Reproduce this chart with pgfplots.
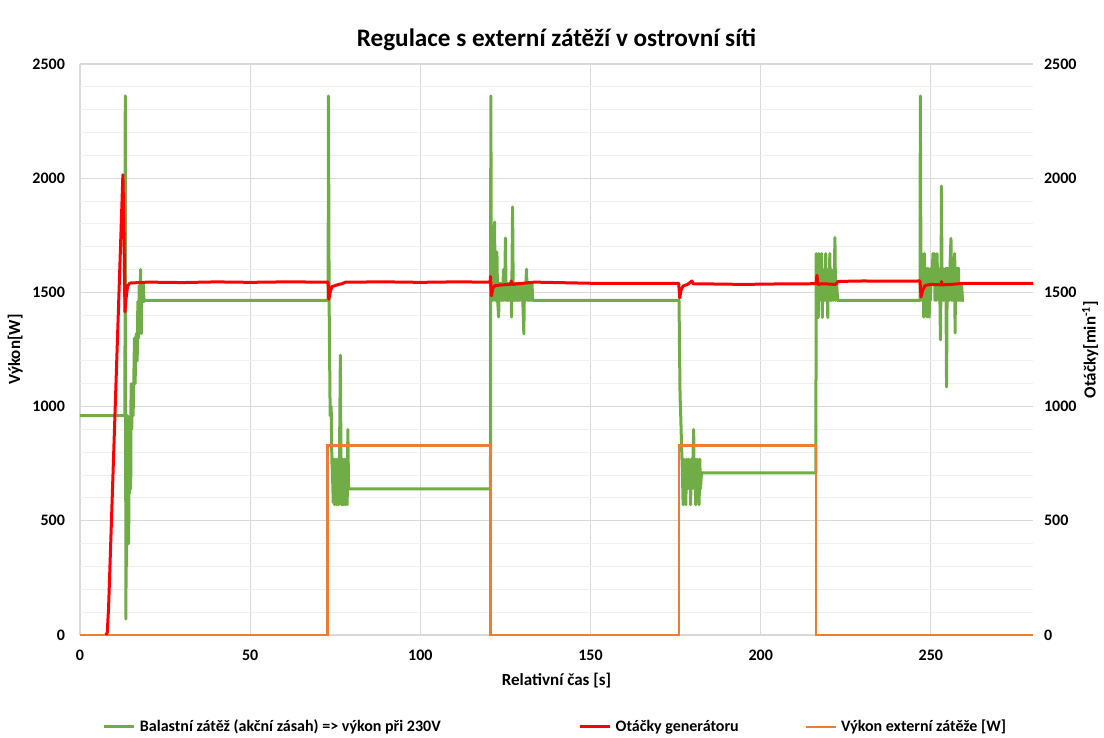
\documentclass[border=0pt]{standalone}
\usepackage{fontspec}
\setmainfont{Carlito}
\usepackage{pgfplots}
\pgfplotsset{compat=1.18}

\definecolor{balast}{HTML}{70AD47}
\definecolor{otacky}{HTML}{FF0000}
\definecolor{externi}{HTML}{ED7D31}
\definecolor{majgrid}{HTML}{D9D9D9}
\definecolor{mingrid}{HTML}{EFEFEF}

\pgfplotsset{
  tick label style={font=\bfseries\fontsize{8}{9}\selectfont},
  /pgf/number format/assume math mode=true,
  /pgf/number format/1000 sep={},
  major tick length=0pt, minor tick length=0pt,
}

\begin{document}
\begin{tikzpicture}
\useasboundingbox (-40pt,-51.5pt) rectangle (512pt,317.5pt);
% levy osa: vykon
\begin{axis}[
  scale only axis,
  width=476.5pt, height=285.5pt,
  xmin=0, xmax=280, ymin=0, ymax=2500,
  xtick={0,50,...,250}, ytick={0,500,...,2500},
  minor y tick num=4,
  grid=major, ymajorgrids, yminorgrids,
  major grid style={line width=0.6pt, draw=majgrid},
  minor grid style={line width=0.5pt, draw=mingrid},
  axis line style={draw=none},
  clip=false,
  yticklabel style={xshift=-4pt},
  xticklabel style={yshift=-4pt},
  title={Regulace s externí zátěží v ostrovní síti},
  title style={font=\bfseries\fontsize{12.6}{14}\selectfont, at={(axis description cs:0.5,1)}, anchor=center, yshift=6pt},
  xlabel={Relativní čas [s]},
  xlabel style={font=\bfseries\fontsize{8.5}{10}\selectfont, at={(axis description cs:0.5,-0.0806)}, anchor=center},
  ylabel={Výkon[W]},
  ylabel style={font=\bfseries\fontsize{8.5}{10}\selectfont, at={(axis description cs:-0.068,0.5)}, anchor=center},
]
% Balastni zatez
\addplot[balast, line width=1.5pt, line join=round] coordinates {
(0,960) (13.2,960) (13.3,2360) (13.4,960) (13.5,70) (13.6,950) (13.7,300) (13.8,940)
(13.9,400) (14.0,960) (14.1,520) (14.2,780) (14.3,400) (14.4,770) (14.5,620) (14.6,780)
(14.7,640) (14.8,770) (14.9,640) (15.0,1100) (15.2,900) (15.4,1100) (15.6,960) (15.8,1100)
(16.0,1300) (16.2,1100) (16.4,1300) (16.6,1320) (16.8,1200) (17.0,1460) (17.2,1300) (17.4,1530)
(17.6,1380) (17.8,1600) (18.0,1320) (18.2,1540) (18.4,1460) (18.6,1540) (18.8,1460) (19.0,1465)
(72.9,1465) (73.0,2360) (73.2,1450) (73.5,960) (73.8,1000) (74.0,760) (74.2,700) (74.4,580)
(74.6,770) (74.8,570) (75.0,710) (75.2,770) (75.4,570) (75.6,710) (75.8,770) (76.0,570)
(76.2,710) (76.5,1225) (76.7,700) (76.9,570) (77.1,770) (77.3,570) (77.5,710) (77.7,770)
(77.9,570) (78.1,710) (78.3,770) (78.5,570) (78.7,900) (78.9,640) (79.2,640)
(120.6,640) (120.7,2360) (120.9,1465) (121.1,1600) (121.3,1465) (121.5,1600) (121.8,1808) (122.0,1465)
(122.2,1540) (122.5,1677) (122.7,1465) (123.0,1392) (123.2,1540) (123.4,1465) (123.6,1540) (123.8,1465)
(124.0,1540) (124.2,1465) (124.4,1600) (124.6,1465) (124.8,1540) (125.0,1738) (125.2,1465) (125.4,1540)
(125.6,1465) (125.8,1540) (126.0,1465) (126.2,1540) (126.4,1465) (126.6,1540) (126.8,1392) (127.1,1874)
(127.3,1465) (127.5,1540) (127.7,1465) (127.9,1540) (128.1,1465) (128.3,1540) (128.5,1465) (128.7,1540)
(128.9,1465) (129.1,1540) (129.3,1465) (129.5,1540) (129.7,1465) (129.9,1540) (130.1,1465) (130.4,1318)
(130.6,1540) (130.8,1465) (131.0,1540) (131.2,1602) (131.4,1465) (131.6,1540) (131.8,1465) (132.0,1540)
(132.2,1465) (132.4,1540) (132.6,1465) (132.8,1540) (133.0,1465) (133.5,1465)
(176.0,1465) (176.1,1320) (176.3,1050) (176.5,960) (176.8,800) (177.0,710) (177.2,570) (177.4,770)
(177.6,640) (177.8,710) (178.0,570) (178.2,770) (178.4,640) (178.6,710) (178.8,770) (179.0,640)
(179.2,710) (179.4,570) (179.6,770) (179.8,640) (180.0,710) (180.3,900) (180.5,640) (180.7,770)
(180.9,570) (181.1,710) (181.3,770) (181.5,640) (181.7,710) (181.9,570) (182.1,770) (182.3,640)
(182.6,710) (183.0,710)
(216.2,710) (216.3,1670) (216.5,1465) (216.7,1600) (216.9,1390) (217.1,1670) (217.3,1465) (217.5,1600)
(217.7,1465) (217.9,1670) (218.1,1390) (218.3,1600) (218.5,1465) (218.7,1600) (218.9,1465) (219.1,1670)
(219.3,1465) (219.5,1600) (219.7,1390) (219.9,1600) (220.1,1465) (220.3,1670) (220.5,1465) (220.7,1600)
(220.9,1465) (221.1,1540) (221.3,1465) (221.6,1540) (221.8,1740) (222.0,1465) (222.3,1540) (222.6,1465)
(246.8,1465) (246.9,2360) (247.1,1465) (247.3,1670) (247.5,1540) (247.7,1606) (247.9,1392) (248.1,1670)
(248.3,1540) (248.5,1606) (248.7,1470) (248.9,1392) (249.1,1606) (249.3,1500) (249.5,1392) (249.7,1540)
(249.9,1465) (250.1,1606) (250.3,1540) (250.6,1670) (250.8,1540) (251.0,1670) (251.2,1465) (251.4,1606)
(251.6,1465) (251.8,1670) (252.0,1540) (252.2,1606) (252.4,1465) (252.6,1540) (252.8,1292) (253.0,1600)
(253.1,1966) (253.3,1465) (253.5,1606) (253.7,1465) (253.9,1540) (254.1,1465) (254.4,1606) (254.6,1086)
(254.8,1606) (255.0,1465) (255.2,1540) (255.4,1465) (255.6,1606) (255.9,1736) (256.1,1465) (256.3,1540)
(256.5,1465) (256.7,1606) (257.0,1670) (257.1,1322) (257.3,1606) (257.5,1465) (257.7,1606) (257.9,1465)
(258.1,1606) (258.3,1465) (258.5,1540) (258.8,1465) (259.0,1540) (259.3,1465) (259.7,1465)
};
% Vykon externi zateze
\addplot[externi, line width=1.1pt] coordinates {
(0,0) (72.7,0) (72.7,830) (120.6,830) (120.6,0) (176.0,0) (176.0,830) (216.3,830) (216.3,0) (280,0)
};
\end{axis}
% prava osa: otacky
\begin{axis}[
  scale only axis,
  width=476.5pt, height=285.5pt,
  xmin=0, xmax=280, ymin=0, ymax=2500,
  axis x line=none,
  axis y line*=right,
  axis line style={draw=none},
  ytick={0,500,...,2500},
  yticklabel style={xshift=2pt},
  clip=false,
  ylabel={Otáčky[min\textsuperscript{-1}]},
  ylabel style={font=\bfseries\fontsize{8.5}{10}\selectfont, at={(axis description cs:1.06,0.5)}, anchor=center, rotate=0},
  legend columns=3,
  legend style={draw=none, fill=none, font=\bfseries\fontsize{8}{9}\selectfont,
    at={(axis description cs:0.5,-0.161)}, anchor=center,
    /tikz/column 2/.style={column sep=67pt},
    /tikz/column 4/.style={column sep=31pt}},
  legend image code/.code={\draw[#1] (0pt,0pt) -- (15pt,0pt);},
]
\addlegendimage{balast, line width=1.5pt}
\addlegendentry{Balastní zátěž (akční zásah) => výkon při 230V}
\addplot[otacky, line width=1.5pt, line join=round] coordinates {
(7.6,0) (8.0,10) (8.4,120) (12.6,2015) (12.9,1800) (13.2,1415) (13.5,1470) (14.0,1530)
(14.7,1541) (20,1545) (30,1543) (40,1546) (50,1544) (60,1546) (72.9,1545) (73.1,1470)
(73.5,1500) (74.0,1525) (75,1530) (76,1535) (77,1538) (78,1545) (90,1546) (100,1544)
(110,1546) (120.5,1545) (120.6,1570) (120.9,1485) (121.3,1520) (122,1530) (124,1533) (126.5,1535)
(126.7,1550) (126.9,1535) (129,1538) (133.5,1545) (140,1543) (150,1540) (160,1539) (170,1540)
(175.9,1540) (176.2,1475) (176.6,1510) (177.2,1528) (178.5,1535) (179.8,1550) (180.2,1537) (185,1537)
(195,1535) (205,1537) (216.3,1538) (216.5,1575) (216.9,1535) (218,1538) (222,1535) (222.7,1548)
(230,1550) (240,1549) (246.8,1550) (247.1,1480) (247.6,1510) (248.3,1530) (250,1535) (253,1533)
(253.1,1548) (253.3,1533) (256,1535) (260,1540) (270,1539) (280,1540)
};
\addlegendentry{Otáčky generátoru}
\addlegendimage{externi, line width=1.1pt}
\addlegendentry{Výkon externí zátěže [W]}
\end{axis}
\end{tikzpicture}
\end{document}
